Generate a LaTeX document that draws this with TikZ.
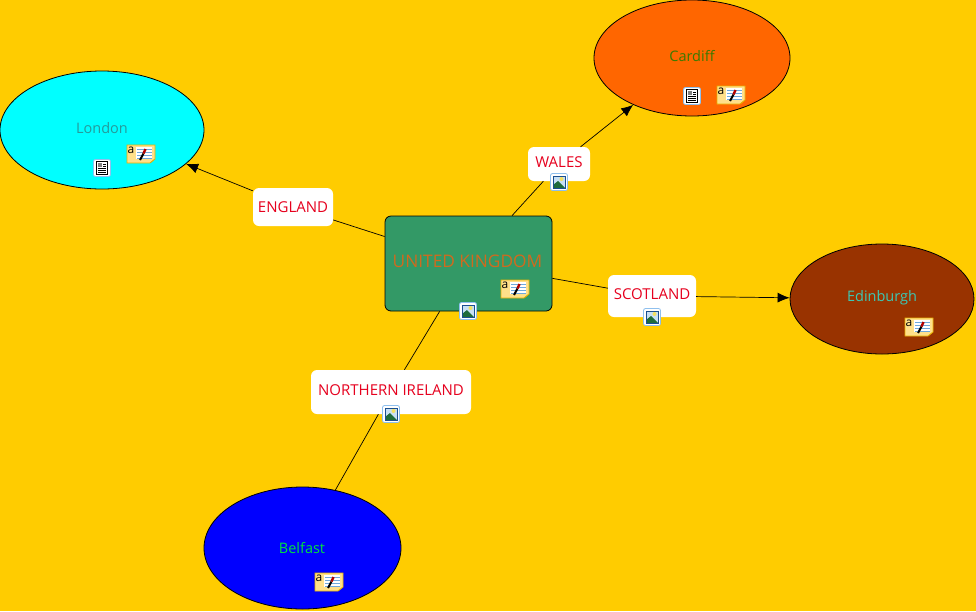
\documentclass[tikz,border=0pt]{standalone}
\usepackage{fontspec}
\setmainfont{Open Sans}
\usetikzlibrary{shapes.geometric,arrows.meta}
\definecolor{bgc}{HTML}{FFCC00}
\definecolor{boxc}{HTML}{339966}
\definecolor{cardc}{HTML}{FF6600}
\definecolor{edinc}{HTML}{993300}
\definecolor{londc}{HTML}{00FFFF}
\definecolor{belfc}{HTML}{0000FF}
\definecolor{lblred}{HTML}{E6001E}
\definecolor{ukt}{HTML}{D06A1E}
\definecolor{lont}{HTML}{259A9A}
\definecolor{cart}{HTML}{3A7A00}
\definecolor{edit}{HTML}{3CC8B4}
\definecolor{belt}{HTML}{00E040}
\definecolor{notey}{HTML}{FFE08A}
\definecolor{noted}{HTML}{E6B000}
\definecolor{iconb}{HTML}{1B4F8F}
\definecolor{iconl}{HTML}{8FC0EE}
\definecolor{skyc}{HTML}{C8E0F4}
\definecolor{hillc}{HTML}{1F6B3A}
\definecolor{sunc}{HTML}{F4E060}
\definecolor{linec}{HTML}{6FA8DC}
\tikzset{
  x=1pt,y=-1pt,
  city/.style={ellipse,draw=black,line width=0.8pt,inner sep=0pt},
  cityname/.style={inner sep=0pt,font=\fontsize{14.5}{16}\selectfont},
  linklabel/.style={rectangle,rounded corners=6pt,fill=white,inner sep=0pt},
  labeltext/.style={inner sep=0pt,text=lblred,font=\fontsize{15}{17}\selectfont},
  link/.style={draw=black,line width=0.7pt},
  linkarrow/.style={link,-{Latex[length=12pt,width=10pt]}},
  pics/noteicon/.style={code={
    \fill[notey,draw=noted,line width=0.9pt] (-14,-9) -- (14,-9) -- (14,5) -- (9,9) -- (-14,9) -- cycle;
    \fill[white] (-5,-7) rectangle (11,5);
    \foreach \yy in {-5,-2,1,4}{\draw[linec,line width=0.6pt] (-4,\yy) -- (11,\yy);}
    \draw[black,line width=2pt] (-1,6) -- (2.5,-0.5);
    \draw[red!70!black,line width=2.4pt] (2.5,-0.5) -- (4.5,-5);
    \node[inner sep=0pt,font=\fontsize{12}{12}\selectfont] (-a) at (-10,-4) {a};
  }},
  pics/imgicon/.style={code={
    \fill[white,draw=iconl,line width=0.8pt,rounded corners=2pt] (-8.5,-8.5) rectangle (8.5,8.5);
    \fill[skyc] (-6,-6) rectangle (6,6);
    \fill[sunc] (2.5,-3) circle (2);
    \fill[hillc] (-6,6) -- (-6,3) -- (-1,-1) -- (6,6) -- cycle;
    \draw[iconb,line width=1pt] (-6,-6) rectangle (6,6);
  }},
  pics/docicon/.style={code={
    \fill[white,draw=iconl,line width=0.8pt,rounded corners=2pt] (-8.5,-8.5) rectangle (8.5,8.5);
    \draw[black,line width=0.9pt] (-5.5,-6.5) rectangle (5.5,6.5);
    \fill[gray] (-4,-5) rectangle (0,-1);
    \draw[black,line width=0.6pt] (1,-4) -- (4,-4) (1,-2) -- (4,-2) (-4,0.5) -- (4,0.5) (-4,2.5) -- (4,2.5) (-4,4.5) -- (4,4.5);
  }}
}
\begin{document}
\begin{tikzpicture}
\useasboundingbox (0,0) rectangle (976,611);
\fill[bgc] (0,0) rectangle (976,611);

\node[rectangle,rounded corners=6pt,draw=black,line width=0.8pt,fill=boxc,minimum width=167pt,minimum height=95pt,inner sep=0pt] (uk) at (468.5,263.5) {};
\node[inner sep=0pt,text=ukt,font=\fontsize{17.3}{19}\selectfont] (uktext) at (467.5,261) {UNITED KINGDOM};

\node[city,fill=londc,minimum width=204pt,minimum height=118pt] (london) at (102,130) {};
\node[cityname,text=lont] (londontext) at (102,128) {London};
\node[city,fill=cardc,minimum width=196pt,minimum height=116pt] (cardiff) at (692,58) {};
\node[cityname,text=cart] (cardifftext) at (692,56) {Cardiff};
\node[city,fill=edinc,minimum width=184pt,minimum height=110pt] (edinburgh) at (882,299) {};
\node[cityname,text=edit] (edintext) at (882,298) {Edinburgh};
\node[city,fill=belfc,minimum width=197pt,minimum height=122pt] (belfast) at (302.5,548) {};
\node[cityname,text=belt] (belfasttext) at (302,548) {Belfast};

\node[linklabel,minimum width=80pt,minimum height=38pt] (england) at (293,207) {};
\node[labeltext] (englandtext) at (293,207) {ENGLAND};
\node[linklabel,minimum width=62pt,minimum height=34pt] (wales) at (559,164) {};
\node[labeltext] (walestext) at (559,162) {WALES};
\node[linklabel,minimum width=88pt,minimum height=42pt] (scotland) at (652,296) {};
\node[labeltext] (scotlandtext) at (652,294) {SCOTLAND};
\node[linklabel,minimum width=160pt,minimum height=44pt] (nireland) at (391,392) {};
\node[labeltext] (nirelandtext) at (391,390) {NORTHERN IRELAND};

\draw[link] (uk) -- (england);
\draw[linkarrow] (england) -- (london);
\draw[link] (uk) -- (wales);
\draw[linkarrow] (wales) -- (cardiff);
\draw[link] (uk) -- (scotland);
\draw[linkarrow] (scotland) -- (edinburgh);
\draw[link] (uk) -- (nireland);
\draw[link] (nireland) -- (belfast);

\pic (n1) at (515,289) {noteicon};
\pic (n2) at (141,154) {noteicon};
\pic (n3) at (731,95) {noteicon};
\pic (n4) at (919,327) {noteicon};
\pic (n5) at (329,582) {noteicon};
\pic (i1) at (468,311) {imgicon};
\pic (i2) at (559,182) {imgicon};
\pic (i3) at (652,317) {imgicon};
\pic (i4) at (391,414) {imgicon};
\pic (d1) at (102,168) {docicon};
\pic (d2) at (692,96) {docicon};
\end{tikzpicture}
\end{document}
